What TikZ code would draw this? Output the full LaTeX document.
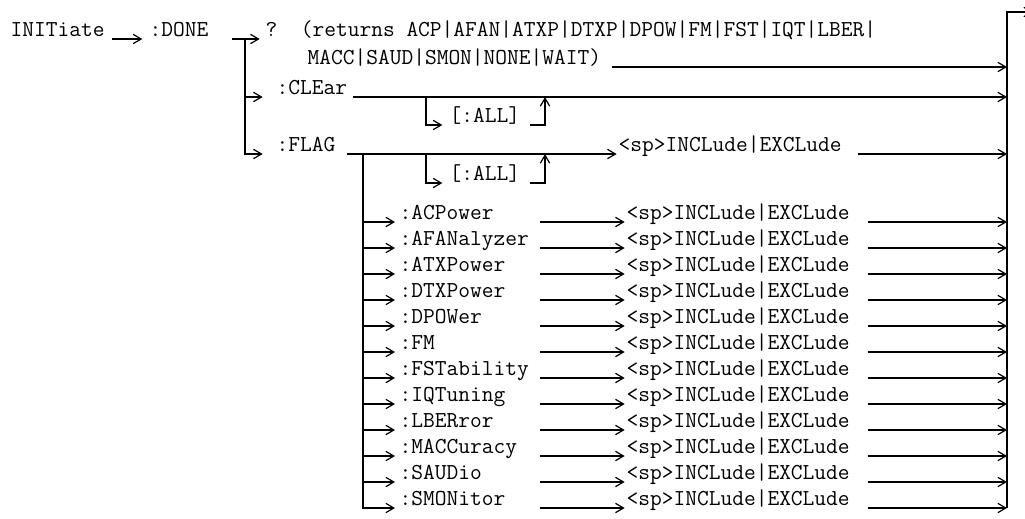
\documentclass[tikz,border=0pt]{standalone}
\usetikzlibrary{arrows.meta}
\tikzset{
  cmd/.style={font=\ttfamily\fontsize{17.1}{20}\selectfont, inner sep=0pt,
    text height=0pt, text depth=4.5pt, anchor=west},
}
\begin{document}
\begin{tikzpicture}[x=.75pt, y=-.75pt, line width=.9pt,
    >={Straight Barb[length=6pt, width=7pt]}]
  \useasboundingbox (0,0) rectangle (1025,518);
  % columns
  \coordinate (tr1) at (245,0);
  \coordinate (tr2) at (363,0);
  \coordinate (dn) at (426,0);
  \coordinate (up) at (545,0);
  \coordinate (mid) at (540,0);
  \coordinate (bar) at (1007,12);
  \coordinate (out) at (1033,12);

  \node[cmd] (init) at (10,39) {INITiate};
  \node[cmd] (done) at (149,39) {:DONE};
  \node[cmd] (q1) at (265,39) {?~~(returns ACP|AFAN|ATXP|DTXP|DPOW|FM|FST|IQT|LBER|};
  \node[cmd] (q2) at (307,67) {MACC|SAUD|SMON|NONE|WAIT)};
  \node[cmd] (clr) at (276,97) {:CLEar};
  \node[cmd] (all1) at (449,125) {[:ALL]};
  \node[cmd] (flag) at (276,154) {:FLAG};
  \node[cmd] (fsp) at (618,154) {<sp>INCLude|EXCLude};
  \node[cmd] (all2) at (449,183) {[:ALL]};
  \foreach \name [count=\i] in {ACPower,AFANalyzer,ATXPower,DTXPower,DPOWer,FM,
      FSTability,IQTuning,LBERror,MACCuracy,SAUDio,SMONitor}{
    \node[cmd] (l\i) at (399,{196+26*\i}) {:\name};
    \node[cmd] (s\i) at (626,{196+26*\i}) {<sp>INCLude|EXCLude};
  }

  % INITiate / :DONE
  \draw[->] ([xshift=5pt]init.east) -- ([xshift=-5pt]done.west);
  \draw[->] ([xshift=17pt]done.east) -- ([xshift=-4pt]q1.west);
  \draw[->] (tr1 |- done) |- ([xshift=-10pt]clr.west);
  \draw[->] (tr1 |- done) |- ([xshift=-10pt]flag.west);
  \draw[->] ([xshift=8pt]q2.east) -- (bar |- q2);
  % :CLEar [:ALL]
  \draw[->] ([xshift=4pt]clr.east) -- (bar |- clr);
  \draw[->] (dn |- clr) |- ([xshift=-5pt]all1.west);
  \draw[->] ([xshift=7pt]all1.east) -| (up |- clr);
  % :FLAG
  \draw[->] ([xshift=8pt]flag.east) -- ([xshift=-1pt]fsp.west);
  \draw[->] (dn |- flag) |- ([xshift=-5pt]all2.west);
  \draw[->] ([xshift=7pt]all2.east) -| (up |- flag);
  \draw[->] ([xshift=12pt]fsp.east) -- (bar |- fsp);
  \foreach \i in {1,...,12}{
    \draw[->] (tr2 |- flag) |- ([xshift=-3pt]l\i.west);
    \draw[->] (mid |- l\i) -- ([xshift=-1pt]s\i.west);
    \draw[->] ([xshift=13pt]s\i.east) -- (bar |- s\i);
  }
  % collecting line
  \draw[->] (bar |- l12) -- (bar) -- (out);
\end{tikzpicture}
\end{document}
